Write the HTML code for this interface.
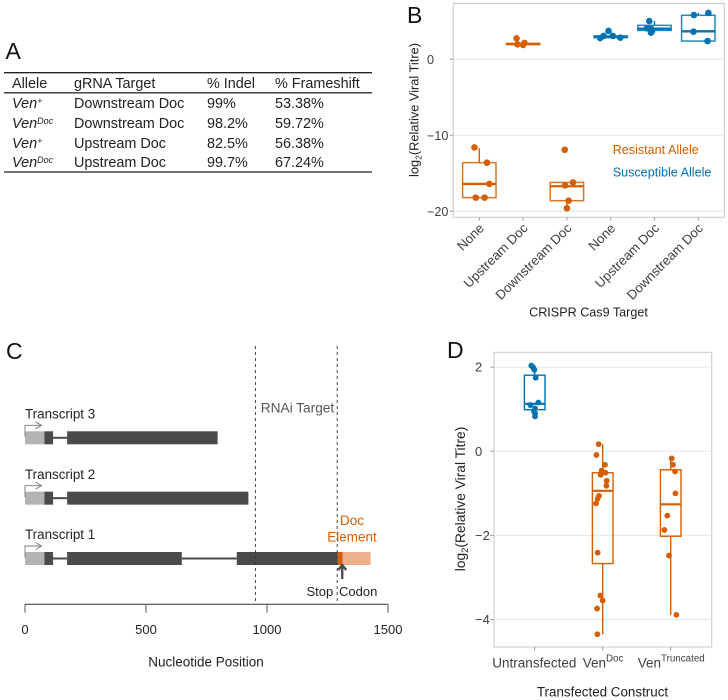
<!DOCTYPE html>
<html lang="en">
<head>
<meta charset="utf-8">
<title>Viral titre figure</title>
<style>
html,body{margin:0;padding:0;background:#fff;width:728px;height:700px;overflow:hidden}
svg{display:block;font-family:"Liberation Sans",sans-serif}
</style>
</head>
<body>
<svg id="fig" width="728" height="700" viewBox="0 0 728 700" xmlns="http://www.w3.org/2000/svg">
  <rect width="728" height="700" fill="#fff"/>
  <g font-size="23" fill="#111">
    <text x="5.5" y="59">A</text>
    <text x="407" y="23">B</text>
    <text x="6" y="359">C</text>
    <text x="447" y="358">D</text>
  </g>
  <g font-size="14.4" fill="#222">
    <line x1="4" x2="372" y1="72.7" y2="72.7" stroke="#222" stroke-width="1.3"/>
    <line x1="4" x2="372" y1="92.8" y2="92.8" stroke="#333" stroke-width="1.4"/>
    <line x1="4" x2="372" y1="172" y2="172" stroke="#222" stroke-width="1.3"/>
    <g>
      <text x="12" y="88">Allele</text>
      <text x="74" y="88">gRNA Target</text>
      <text x="207" y="88">% Indel</text>
      <text x="275" y="88">% Frameshift</text>
    </g>
    <g>
      <text x="12" y="108" font-style="italic">Ven<tspan dy="-4" font-size="9">+</tspan></text>
      <text x="74" y="108">Downstream Doc</text>
      <text x="207" y="108">99%</text>
      <text x="275" y="108">53.38%</text>
    </g>
    <g>
      <text x="12" y="128" font-style="italic">Ven<tspan dy="-4" font-size="9">Doc</tspan></text>
      <text x="74" y="128">Downstream Doc</text>
      <text x="207" y="128">98.2%</text>
      <text x="275" y="128">59.72%</text>
    </g>
    <g>
      <text x="12" y="148" font-style="italic">Ven<tspan dy="-4" font-size="9">+</tspan></text>
      <text x="74" y="148">Upstream Doc</text>
      <text x="207" y="148">82.5%</text>
      <text x="275" y="148">56.38%</text>
    </g>
    <g>
      <text x="12" y="167" font-style="italic">Ven<tspan dy="-4" font-size="9">Doc</tspan></text>
      <text x="74" y="167">Upstream Doc</text>
      <text x="207" y="167">99.7%</text>
      <text x="275" y="167">67.24%</text>
    </g>
  </g>
  <g id="panelB"></g>
  <g id="panelC"></g>
  <g id="panelD"></g>
</svg>
<script>
/* ---------- Panel B data ---------- */
var bCategories = ['None','Upstream Doc','Downstream Doc','None','Upstream Doc','Downstream Doc'];
var bAlleles = ['resistant','resistant','resistant','susceptible','susceptible','susceptible'];
var bTicks = [0,-10,-20];
var bQ1 = [-18.2,1.95,-18.6,2.85,3.8,2.4];
var bMedian = [-16.4,2.0,-16.7,2.98,4.03,3.68];
var bQ3 = [-13.6,2.1,-16.2,3.07,4.47,5.79];
var bWhiskerLow = [-18.2,1.89,-19.6,2.8,3.5,2.4];
var bWhiskerHigh = [-11.7,2.15,-16.2,3.1,5.04,6.1];
var bPointCategory = [0,0,0,0,0, 1,1,1,1, 2,2,2,2,2, 3,3,3,3,3, 4,4,4,4, 5,5,5,5];
var bPointJitter = [-0.11,0.175,0.23,-0.08,0.12, -0.15,-0.13,0,0.03, -0.05,0.14,-0.04,0.04,0, -0.24,-0.16,-0.05,0.05,0.22, -0.12,-0.17,-0.08,-0.08, -0.1,0.23,-0.11,0.21];
var bPointValue = [-11.6,-13.6,-16.4,-18.2,-18.2, 2.76,1.97,1.89,2.15, -11.9,-16.2,-16.6,-18.6,-19.6, 2.8,3.07,3.73,3.07,2.85, 5.04,4.08,3.5,4.03, 5.83,6.1,3.64,2.4];

/* ---------- Panel C data ---------- */
var cTranscripts = ['Transcript 1','Transcript 2','Transcript 3'];
var cUtr = [0,80];
var cExons1 = [[80,116],[174,648],[875,1292]];
var cExons2 = [[80,116],[174,923]];
var cExons3 = [[80,116],[174,796]];
var cDocCoding = [1292,1313];
var cDocUtr = [1313,1428];
var cRnaiBounds = [952,1290];
var cStopCodon = 1313;
var cTicks = [0,500,1000,1500];

/* ---------- Panel D data ---------- */
var dConstructs = ['Untransfected','Ven','Ven'];
var dSuperscripts = ['','Doc','Truncated'];
var dTicks = [2,0,-2,-4];
var dQ1 = [0.99,-2.67,-2.02];
var dMedian = [1.13,-0.94,-1.26];
var dQ3 = [1.81,-0.51,-0.44];
var dWhiskerLow = [0.83,-4.35,-3.89];
var dWhiskerHigh = [2.04,0.17,-0.17];
var dPointCategory = [0,0,0,0,0,0,0,0,0,0, 1,1,1,1,1,1,1,1,1,1,1,1,1,1,1,1, 2,2,2,2,2,2,2,2];
var dPointJitter = [-0.05,-0.025,-0.005,0.015,0.054,-0.064,0.005,-0.01,0.005,0.005, -0.06,-0.093,0.034,-0.015,0.04,-0.03,0.059,0.054,-0.054,-0.074,-0.098,-0.074,-0.034,0,-0.083,-0.078, 0.015,0.034,0.064,0.069,-0.05,-0.093,-0.025,0.083];
var dPointValue = [2.04,2.0,1.94,1.75,1.16,1.10,1.02,0.95,0.90,0.83, 0.17,-0.09,-0.32,-0.46,-0.51,-0.56,-0.7,-0.82,-1.06,-1.13,-1.24,-2.41,-3.43,-3.55,-3.74,-4.35, -0.17,-0.32,-0.48,-1.0,-1.53,-1.87,-2.48,-3.89];

var ORANGE = '#D55E00', BLUE = '#0072B2', TICKTEXT = '#404040', GRID = '#e6e6e6', FRAME = '#cccccc';
var NS = 'http://www.w3.org/2000/svg';

function mk(parent, tag, attrs, content) {
  var el = document.createElementNS(NS, tag);
  for (var k in attrs) el.setAttribute(k, attrs[k]);
  if (content !== undefined) el.textContent = content;
  parent.appendChild(el);
  return el;
}
function fmt(v) { return String(v).replace('-', '\u2212'); }

/* ---------- Panel B ---------- */
function xB(i) { return 479.3 + 43.8 * i; }
function yB(v) { return 59.3 - 7.6 * v; }
(function () {
  var root = document.getElementById('panelB');
  var el, i;
  el = mk(root, 'rect', {x:453.3, y:3.5, width:271, height:213.8, fill:'#fff', stroke:FRAME, 'stroke-width':1.1});
  
  
  bTicks.forEach(function (t) {
    el = mk(root, 'line', {x1:453.3, x2:724.3, y1:yB(t), y2:yB(t), stroke:GRID, 'stroke-width':1});
    
    
    el = mk(root, 'line', {x1:450, x2:453.3, y1:yB(t), y2:yB(t), stroke:'#999', 'stroke-width':1});
    
    
    el = mk(root, 'text', {x:427, y:yB(t) + 4.5, 'font-size':12.6, fill:TICKTEXT}, fmt(t));
    
    
  });
  for (i = 0; i < bCategories.length; i++) {
    var col = bAlleles[i] === 'resistant' ? ORANGE : BLUE;
    var g = mk(root, 'g', {fill:'none', stroke:col});
    
    
    el = mk(g, 'line', {x1:xB(i), x2:xB(i), y1:yB(bQ3[i]), y2:yB(bWhiskerHigh[i]), 'stroke-width':1.4});
    
    
    el = mk(g, 'line', {x1:xB(i), x2:xB(i), y1:yB(bQ1[i]), y2:yB(bWhiskerLow[i]), 'stroke-width':1.4});
    
    
    el = mk(g, 'rect', {x:xB(i) - 16.7, width:33.4, y:yB(bQ3[i]), height:yB(bQ1[i]) - yB(bQ3[i]), 'stroke-width':1.5, 'stroke-opacity':0.85});
    
    
    el = mk(g, 'line', {x1:xB(i) - 16.7, x2:xB(i) + 16.7, y1:yB(bMedian[i]), y2:yB(bMedian[i]), 'stroke-width':2.3});
    
    
    el = mk(root, 'line', {x1:xB(i), x2:xB(i), y1:217.3, y2:220.5, stroke:'#999', 'stroke-width':1});
    
    
    var lx = xB(i) + 5.5, ly = 229;
    el = mk(root, 'text', {x:lx, y:ly, 'text-anchor':'end', 'font-size':13.2, fill:TICKTEXT, transform:'rotate(-45 ' + lx + ' ' + ly + ')'}, bCategories[i]);
    
    
  }
  bPointValue.forEach(function (v, p) {
    var c = bPointCategory[p];
    var pt = mk(root, 'circle', {cx:xB(c + bPointJitter[p]), cy:yB(v), r:3.3, fill:bAlleles[c] === 'resistant' ? ORANGE : BLUE});
    
    
  });
  el = mk(root, 'text', {x:612.7, y:154, 'font-size':12.6, fill:ORANGE}, 'Resistant Allele');
  
  
  el = mk(root, 'text', {x:612.7, y:176.5, 'font-size':12.6, fill:BLUE}, 'Susceptible Allele');
  
  
  el = mk(root, 'text', {x:588.5, y:316.7, 'text-anchor':'middle', 'font-size':12.6, fill:'#222'}, 'CRISPR Cas9 Target');
  
  
  el = mk(root, 'text', {x:0, y:0, 'text-anchor':'middle', 'font-size':12.8, fill:'#222', transform:'translate(418.5 110) rotate(-90)'});
  
  
  mk(el, 'tspan', {}, 'log');
  mk(el, 'tspan', {dy:3, 'font-size':8.5}, '2');
  mk(el, 'tspan', {dy:-3}, '(Relative Viral Titre)');
})();

/* ---------- Panel C ---------- */
function xC(n) { return 25 + 0.242 * n; }
function rowC(r) { return 558.5 - 60.35 * r; }
(function () {
  var root = document.getElementById('panelC');
  var allExons = [cExons1, cExons2, cExons3];
  var el;
  allExons.forEach(function (exons, r) {
    var cy = rowC(r);
    var g = mk(root, 'g', {});
    
    
    el = mk(g, 'text', {x:25, y:cy - 19.3, 'font-size':13.4, fill:'#222'}, cTranscripts[r]);
    
    
    for (var e = 0; e + 1 < exons.length; e++) {
      el = mk(g, 'line', {x1:xC(exons[e][1]), x2:xC(exons[e + 1][0]), y1:cy, y2:cy, stroke:'#4a4a4a', 'stroke-width':2});
      
      
    }
    el = mk(g, 'rect', {x:xC(cUtr[0]), width:xC(cUtr[1]) - xC(cUtr[0]), y:cy - 6.5, height:13, fill:'#b3b3b3'});
    
    
    exons.forEach(function (ex) {
      el = mk(g, 'rect', {x:xC(ex[0]), width:xC(ex[1]) - xC(ex[0]), y:cy - 6.5, height:13, fill:'#4a4a4a'});
      
      
    });
    el = mk(g, 'path', {d:'M25 ' + (cy - 1) + 'V' + (cy - 12.5) + 'H41.5M35.5 ' + (cy - 16) + 'L41.5 ' + (cy - 12.5) + 'L35.5 ' + (cy - 9), fill:'none', stroke:'#777', 'stroke-width':0.9});
    
    
  });
  var cy1 = rowC(0);
  el = mk(root, 'rect', {x:xC(cDocCoding[0]), width:xC(cDocCoding[1]) - xC(cDocCoding[0]), y:cy1 - 6.5, height:13, fill:ORANGE});
  
  
  el = mk(root, 'rect', {x:xC(cDocUtr[0]), width:xC(cDocUtr[1]) - xC(cDocUtr[0]), y:cy1 - 6.5, height:13, fill:'#eeb08a'});
  
  
  cRnaiBounds.forEach(function (n) {
    el = mk(root, 'line', {x1:xC(n), x2:xC(n), y1:346, y2:604, stroke:'#333', 'stroke-width':0.9, 'stroke-dasharray':'3 3'});
    
    
  });
  el = mk(root, 'text', {x:260.7, y:412.7, 'font-size':13.7, fill:'#555'}, 'RNAi Target');
  
  
  el = mk(root, 'text', {x:352, y:525, 'text-anchor':'middle', 'font-size':13.5, fill:ORANGE}, 'Doc');
  
  
  el = mk(root, 'text', {x:352, y:541.7, 'text-anchor':'middle', 'font-size':13.5, fill:ORANGE}, 'Element');
  
  
  var sx = xC(cStopCodon) - 0.5;
  el = mk(root, 'path', {d:'M' + sx + ' 579V565.5M' + (sx - 4) + ' 570L' + sx + ' 565L' + (sx + 4) + ' 570', fill:'none', stroke:'#4a4a4a', 'stroke-width':2.3});
  
  
  el = mk(root, 'text', {x:306.5, y:596, 'font-size':13, fill:'#222'}, 'Stop');
  
  
  el = mk(root, 'text', {x:339, y:596, 'font-size':13, fill:'#222'}, 'Codon');
  
  
  el = mk(root, 'line', {x1:xC(cTicks[0]), x2:xC(cTicks[cTicks.length - 1]), y1:604.3, y2:604.3, stroke:'#333', 'stroke-width':1});
  
  
  cTicks.forEach(function (t) {
    el = mk(root, 'line', {x1:xC(t), x2:xC(t), y1:604.3, y2:612.7, stroke:'#555', 'stroke-width':1});
    
    
    el = mk(root, 'text', {x:xC(t), y:634, 'text-anchor':'middle', 'font-size':13, fill:'#222'}, String(t));
    
    
  });
  el = mk(root, 'text', {x:206, y:666.7, 'text-anchor':'middle', 'font-size':13.5, fill:'#222'}, 'Nucleotide Position');
  
  
})();

/* ---------- Panel D ---------- */
function xD(i) { return 534.7 + 68 * i; }
function yD(v) { return 451.3 - 42.05 * v; }
(function () {
  var root = document.getElementById('panelD');
  var el, i;
  el = mk(root, 'rect', {x:494, y:352.3, width:217.7, height:294.7, fill:'#fff', stroke:FRAME, 'stroke-width':1.1});
  
  
  dTicks.forEach(function (t) {
    el = mk(root, 'line', {x1:494, x2:711.7, y1:yD(t), y2:yD(t), stroke:GRID, 'stroke-width':1});
    
    
    el = mk(root, 'line', {x1:490.5, x2:494, y1:yD(t), y2:yD(t), stroke:'#999', 'stroke-width':1});
    
    
    el = mk(root, 'text', {x:475, y:yD(t) + 4.5, 'font-size':13, fill:TICKTEXT}, fmt(t));
    
    
  });
  var labelX = [492.3, 582.7, 637.7];
  for (i = 0; i < dConstructs.length; i++) {
    var col = i === 0 ? BLUE : ORANGE;
    var g = mk(root, 'g', {fill:'none', stroke:col});
    
    
    el = mk(g, 'line', {x1:xD(i), x2:xD(i), y1:yD(dQ3[i]), y2:yD(dWhiskerHigh[i]), 'stroke-width':1.4});
    
    
    el = mk(g, 'line', {x1:xD(i), x2:xD(i), y1:yD(dQ1[i]), y2:yD(dWhiskerLow[i]), 'stroke-width':1.4});
    
    
    el = mk(g, 'rect', {x:xD(i) - 10.3, width:20.6, y:yD(dQ3[i]), height:yD(dQ1[i]) - yD(dQ3[i]), 'stroke-width':1.4});
    
    
    el = mk(g, 'line', {x1:xD(i) - 10.3, x2:xD(i) + 10.3, y1:yD(dMedian[i]), y2:yD(dMedian[i]), 'stroke-width':2.1});
    
    
    el = mk(root, 'line', {x1:xD(i), x2:xD(i), y1:647, y2:650.5, stroke:'#999', 'stroke-width':1});
    
    
    el = mk(root, 'text', {x:labelX[i], y:667.7, 'font-size':13.5, fill:TICKTEXT});
    
    
    mk(el, 'tspan', {}, dConstructs[i]);
    if (dSuperscripts[i]) mk(el, 'tspan', {dy:-6, 'font-size':9.8}, dSuperscripts[i]);
  }
  dPointValue.forEach(function (v, p) {
    var c = dPointCategory[p];
    var pt = mk(root, 'circle', {cx:xD(c + dPointJitter[p]), cy:yD(v), r:2.9, fill:c === 0 ? BLUE : ORANGE});
    
    
  });
  el = mk(root, 'text', {x:602.5, y:696.7, 'text-anchor':'middle', 'font-size':13.4, fill:'#222'}, 'Transfected Construct');
  
  
  el = mk(root, 'text', {x:0, y:0, 'text-anchor':'middle', 'font-size':13.8, fill:'#222', transform:'translate(465 499) rotate(-90)'});
  
  
  mk(el, 'tspan', {}, 'log');
  mk(el, 'tspan', {dy:3, 'font-size':9.5}, '2');
  mk(el, 'tspan', {dy:-3}, '(Relative Viral Titre)');
})();
</script>
</body>
</html>
